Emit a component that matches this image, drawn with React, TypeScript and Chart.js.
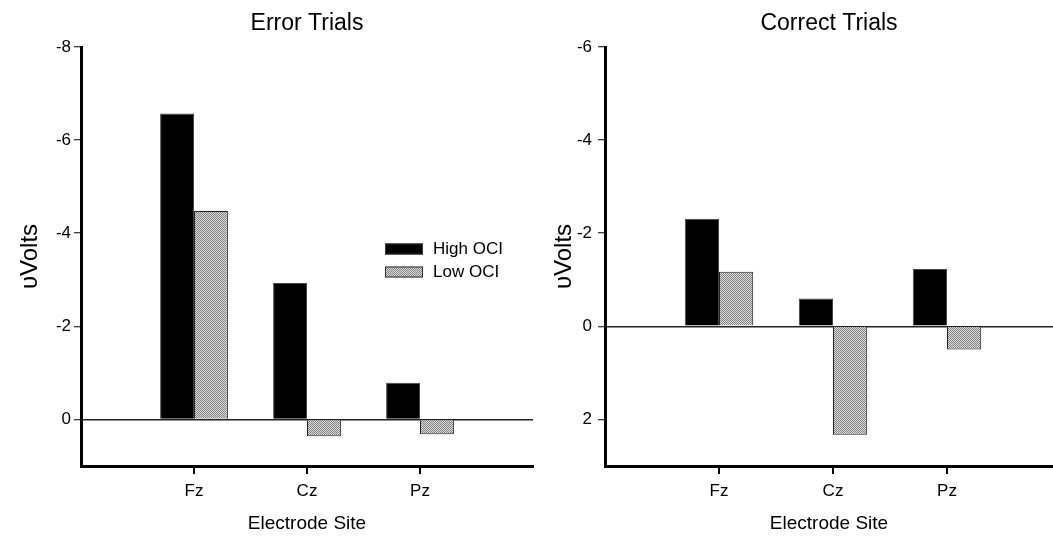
import React, { useEffect, useRef } from 'react';
import { Chart, registerables } from 'chart.js';
Chart.register(...registerables);

const sites = ['Fz', 'Cz', 'Pz'];
const seriesNames = ['High OCI', 'Low OCI'];
const errorHigh = [-6.57, -2.93, -0.79];
const errorLow = [-4.48, 0.36, 0.32];
const correctHigh = [-2.31, -0.6, -1.23];
const correctLow = [-1.17, 2.33, 0.5];
const errorTicks = [-8, -6, -4, -2, 0];
const correctTicks = [-6, -4, -2, 0, 2];
const siteX = [1, 2, 3];

const FONT = '"Liberation Sans", Arial, Helvetica, sans-serif';
Chart.defaults.font.family = FONT;
Chart.defaults.color = '#000';

function makePattern(): CanvasPattern | string {
  const c = document.createElement('canvas');
  c.width = 2;
  c.height = 2;
  const g = c.getContext('2d');
  if (!g) return '#b8b8b8';
  g.fillStyle = '#dedede';
  g.fillRect(0, 0, 2, 2);
  g.fillStyle = '#808080';
  g.fillRect(0, 0, 1, 1);
  g.fillRect(1, 1, 1, 1);
  return g.createPattern(c, 'repeat') || '#b8b8b8';
}

const legendPlugin = {
  id: 'boxLegend',
  afterDraw(chart: any, _args: any, opts: any) {
    if (!opts || !opts.display) return;
    const ctx = chart.ctx;
    ctx.save();
    chart.data.datasets.forEach((ds: any, i: number) => {
      const cy = opts.y + i * opts.gap;
      ctx.fillStyle = ds.backgroundColor;
      ctx.fillRect(opts.x, cy - 5.5, 38, 11);
      ctx.strokeStyle = '#333';
      ctx.lineWidth = 1;
      ctx.strokeRect(opts.x + 0.5, cy - 5, 37, 10);
      ctx.fillStyle = '#000';
      ctx.font = `17px ${FONT}`;
      ctx.textBaseline = 'middle';
      ctx.textAlign = 'left';
      ctx.fillText(ds.label, opts.x + 48, cy);
    });
    ctx.restore();
  },
};

// draws the x-axis tick marks at the scale's own category positions
const xTickPlugin = {
  id: 'xTickMarks',
  afterDraw(chart: any) {
    const s = chart.scales.x;
    if (!s) return;
    const ctx = chart.ctx;
    ctx.save();
    ctx.fillStyle = '#000';
    const y0 = chart.chartArea.bottom;
    siteX.forEach((v) => {
      const px = s.getPixelForValue(v);
      ctx.fillRect(Math.round(px) - 1, y0, 2, 8);
    });
    ctx.restore();
  },
};

type PanelProps = {
  title: string;
  high: number[];
  low: number[];
  yMin: number;
  yMax: number;
  yTicks: number[];
  xMax: number;
  yAxisWidth: number;
  tickPad: number;
  yTitlePad: number;
  rightPad: number;
  legend: boolean;
  width: number;
  left: number;
};

function Panel(p: PanelProps) {
  const ref = useRef<HTMLCanvasElement | null>(null);
  useEffect(() => {
    if (!ref.current) return;
    const pattern = makePattern();
    const chart = new Chart(ref.current, {
      type: 'bar',
      data: {
        datasets: [
          {
            label: seriesNames[0],
            data: siteX.map((x, i) => ({ x, y: p.high[i] })),
            backgroundColor: '#000',
            borderColor: '#444',
            borderWidth: 1,
            barPercentage: 1,
            categoryPercentage: 0.6,
          },
          {
            label: seriesNames[1],
            data: siteX.map((x, i) => ({ x, y: p.low[i] })),
            backgroundColor: pattern as any,
            borderColor: '#222',
            borderWidth: 1,
            barPercentage: 1,
            categoryPercentage: 0.6,
          },
        ],
      } as any,
      plugins: [legendPlugin, xTickPlugin],
      options: {
        responsive: false,
        animation: false,
        devicePixelRatio: 1,
        layout: { padding: { left: 0, top: 0, bottom: 0, right: p.rightPad } },
        plugins: {
          legend: { display: false },
          tooltip: { enabled: false },
          title: {
            display: true,
            text: p.title,
            fullSize: false,
            color: '#000',
            font: { size: 23, weight: 'normal' },
            padding: { top: 10, bottom: 9.4 },
          },
          boxLegend: { display: p.legend, x: 385, y: 249, gap: 23 },
        } as any,
        scales: {
          x: {
            type: 'linear',
            min: 0,
            max: p.xMax,
            offset: false,
            afterBuildTicks: (s: any) => {
              s.ticks = siteX.map((v) => ({ value: v }));
            },
            afterFit: (s: any) => {
              s.height = 71;
            },
            ticks: {
              autoSkip: false,
              padding: 15,
              font: { size: 17 },
              color: '#000',
              callback: (v: any) => sites[siteX.indexOf(Number(v))] ?? '',
            },
            grid: {
              offset: false,
              display: false,
              drawOnChartArea: false,
              drawTicks: false,
            },
            border: { display: true, width: 3, color: '#000' },
            title: {
              display: true,
              text: 'Electrode Site',
              font: { size: 19 },
              color: '#000',
              padding: { top: 0, bottom: 2 },
            },
          },
          y: {
            type: 'linear',
            reverse: true,
            min: p.yMin,
            max: p.yMax,
            afterBuildTicks: (s: any) => {
              s.ticks = p.yTicks.map((v) => ({ value: v }));
            },
            afterFit: (s: any) => {
              s.width = p.yAxisWidth;
            },
            ticks: {
              padding: p.tickPad,
              font: { size: 17 },
              color: '#000',
              callback: (v: any) => String(v),
            },
            grid: {
              drawOnChartArea: true,
              drawTicks: true,
              tickLength: 7,
              tickColor: '#000',
              tickWidth: 1,
              color: (c: any) => (c.tick && c.tick.value === 0 ? '#222' : 'rgba(0,0,0,0)'),
              lineWidth: 1.5,
            },
            border: { display: true, width: 3, color: '#000' },
            title: {
              display: true,
              text: 'υVolts',
              font: { size: 24 },
              color: '#000',
              padding: { top: p.yTitlePad, bottom: 0 },
            },
          },
        },
      } as any,
    });
    return () => chart.destroy();
  }, []);
  return (
    <div style={{ position: 'absolute', left: p.left, top: 0, width: p.width, height: 537 }}>
      <canvas ref={ref} width={p.width} height={537} style={{ display: 'block' }} />
    </div>
  );
}

export default function App() {
  return (
    <div style={{ position: 'absolute', left: 0, top: 0, width: 1053, height: 537, background: '#fff', overflow: 'hidden' }}>
      <Panel
        title="Error Trials"
        high={errorHigh}
        low={errorLow}
        yMin={-8}
        yMax={1}
        yTicks={errorTicks}
        xMax={4}
        yAxisWidth={81}
        tickPad={3}
        yTitlePad={16}
        rightPad={7}
        legend={true}
        width={540}
        left={0}
      />
      <Panel
        title="Correct Trials"
        high={correctHigh}
        low={correctLow}
        yMin={-6}
        yMax={3}
        yTicks={correctTicks}
        xMax={3.93}
        yAxisWidth={65}
        tickPad={6}
        yTitlePad={10}
        rightPad={0}
        legend={false}
        width={513}
        left={540}
      />
    </div>
  );
}
